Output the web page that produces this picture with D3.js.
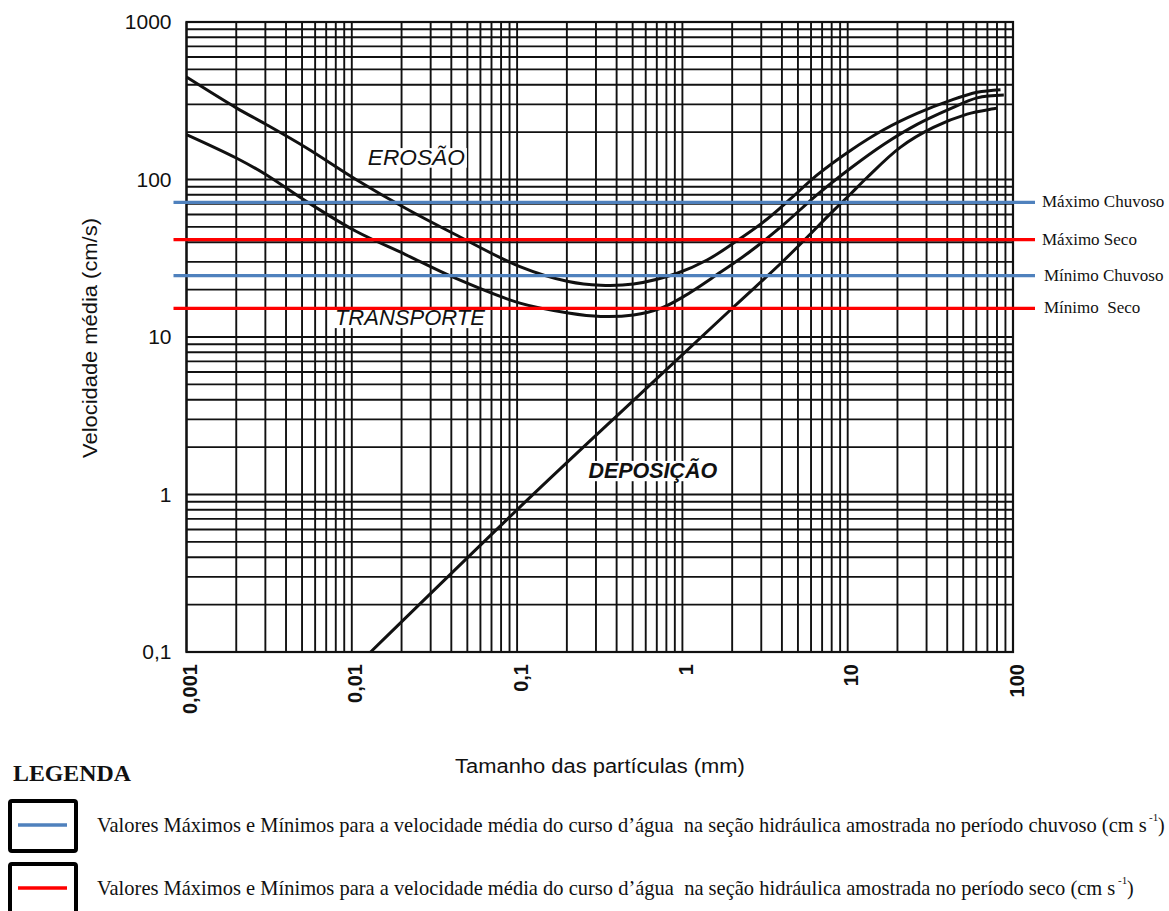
<!DOCTYPE html>
<html>
<head>
<meta charset="utf-8">
<script src="https://cdn.jsdelivr.net/npm/d3@7"></script>
<style>
  body { margin: 0; background: #fff; }
  svg { display: block; }
</style>
</head>
<body>
<div id="chart"></div>
<script>
// Curves of the Hjulström diagram: [particle size (mm), mean velocity (cm/s)].
const erosionUpper = [
    [0.001, 447], [0.002, 285], [0.003, 225], [0.0053, 159], [0.0106, 100],
    [0.021, 65.9], [0.042, 44.9], [0.104, 28], [0.204, 22.5], [0.32, 21.3],
    [0.506, 21.7], [0.93, 25.4], [1.41, 30.8], [2.04, 39.5], [3.26, 56.1],
    [4.5, 75.2], [6.54, 107], [10.4, 153], [16.5, 207], [26.3, 263],
    [41.9, 318], [60.7, 358], [84, 372]
];
const erosionLower = [
    [0.001, 193], [0.002, 137], [0.003, 108], [0.0053, 72.7], [0.0106, 46.9],
    [0.021, 33.5], [0.042, 23.7], [0.104, 16.4], [0.204, 14.2], [0.32, 13.5],
    [0.506, 13.8], [0.738, 15.2], [1.02, 18.1], [1.62, 24.9], [2.58, 35],
    [4.09, 51.7], [6.54, 80.2], [10.4, 118], [16.5, 167], [26.3, 224],
    [41.9, 282], [60.7, 330], [88, 344]
];
const deposition = [
    [0.013, 0.1], [0.115, 0.92], [0.506, 3.96], [2.04, 15.5], [4.09, 30.5],
    [8.2, 63.4], [10.4, 80.9], [13.1, 103], [20.8, 160], [33, 214],
    [52.8, 260], [76, 281], [80, 284]
];

// Measured velocities drawn as horizontal lines.
const refNames = ['Máximo Chuvoso', 'Máximo Seco', 'Mínimo Chuvoso', 'Mínimo  Seco'];
const refValues = [71.5, 41.5, 24.5, 15.2];
const refColors = ['#4f81bd', '#ff0000', '#4f81bd', '#ff0000'];

// Axis ticks and region labels.
const xTicks = [0.001, 0.01, 0.1, 1, 10, 100];
const yTicks = [0.1, 1, 10, 100, 1000];
const regionNames = ['EROSÃO', 'TRANSPORTE', 'DEPOSIÇÃO'];
const regionAt = [[0.0125, 124], [0.0079, 11.9], [0.27, 1.27]];

const legendTexts = [
    'Valores Máximos e Mínimos para a velocidade média do curso d’água  na seção hidráulica amostrada no período chuvoso (cm s',
    'Valores Máximos e Mínimos para a velocidade média do curso d’água  na seção hidráulica amostrada no período seco (cm s'
];
const legendColors = ['#4f81bd', '#ff0000'];

const W = 1169, H = 911;
const margin = {top: 22, left: 186.5, right: 156, bottom: 259};
const width = W - margin.left - margin.right;
const height = H - margin.top - margin.bottom;

const sans = '"Liberation Sans", Arial, sans-serif';
const serif = '"Liberation Serif", "Times New Roman", serif';

const svg = d3.select('#chart')
    .append('svg')
        .attr('width', W)
        .attr('height', H);
svg.append('rect').attr('width', W).attr('height', H).attr('fill', '#fff');

// Text squeezed horizontally to a measured width (the scan's type is condensed).
function squeezed(parent, x, y, target, turn) {
    const holder = parent.append('g');
    const t = holder.append('text');
    t.fit = () => {
        const w = t.node().getComputedTextLength();
        holder.attr('transform', `translate(${x},${y})${turn ? ' rotate(-90)' : ''} scale(${target / w},1)`);
        return t;
    };
    t.holder = holder;
    return t;
}

const g = svg.append('g')
    .attr('transform', `translate(${margin.left},${margin.top})`);

// Log scales on both axes.
const x = d3.scaleLog().domain([0.001, 100]).range([0, width]);
const y = d3.scaleLog().domain([0.1, 1000]).range([height, 0]);

// Log grid (every 1..9 of each decade).
g.append('g')
    .selectAll('line')
    .data(x.ticks())
    .join('line')
        .attr('x1', d => x(d)).attr('x2', d => x(d))
        .attr('y1', 0).attr('y2', height)
        .attr('stroke', '#111')
        .attr('stroke-width', 1.9);
g.append('g')
    .selectAll('line')
    .data(y.ticks())
    .join('line')
        .attr('x1', 0).attr('x2', width)
        .attr('y1', d => y(d)).attr('y2', d => y(d))
        .attr('stroke', '#111')
        .attr('stroke-width', 1.9);
g.append('rect')
    .attr('width', width).attr('height', height)
    .attr('fill', 'none')
    .attr('stroke', '#111')
    .attr('stroke-width', 2.2);

// Comma as decimal separator.
const fmt = d3.formatLocale({decimal: ',', thousands: '.', grouping: [3], currency: ['', '']}).format('~g');

// Y axis.
const yAxis = g.append('g')
    .call(d3.axisLeft(y).tickValues(yTicks).tickFormat(fmt).tickSize(0).tickPadding(15));
yAxis.select('.domain').remove();
yAxis.selectAll('text')
    .style('font-family', sans)
    .style('font-size', '21px')
    .attr('fill', '#111');

// X axis, labels turned upright.
const xAxis = g.append('g')
    .attr('transform', `translate(0,${height})`)
    .call(d3.axisBottom(x).tickValues(xTicks).tickFormat(fmt).tickSize(0));
xAxis.select('.domain').remove();
xAxis.selectAll('text')
    .attr('transform', 'rotate(-90)')
    .attr('x', -12)
    .attr('y', 3)
    .attr('dy', '0.35em')
    .attr('text-anchor', 'end')
    .style('font-family', sans)
    .style('font-size', '20px')
    .style('font-weight', 'bold')
    .attr('fill', '#111');

// Axis titles.
squeezed(svg, 97, 338, 240, true)
    .attr('text-anchor', 'middle')
    .style('font-family', sans)
    .style('font-size', '21px')
    .attr('fill', '#111')
    .text('Velocidade média (cm/s)')
    .fit();
squeezed(svg, 600, 773, 290)
    .attr('text-anchor', 'middle')
    .style('font-family', sans)
    .style('font-size', '21px')
    .attr('fill', '#111')
    .text('Tamanho das partículas (mm)')
    .fit();

// Curves.
const line = d3.line()
    .x(d => x(d[0]))
    .y(d => y(d[1]))
    .curve(d3.curveCatmullRom.alpha(0.5));
[erosionUpper, erosionLower, deposition].forEach(c => {
    g.append('path')
        .datum(c)
        .attr('d', line)
        .attr('fill', 'none')
        .attr('stroke', '#111')
        .attr('stroke-width', 3);
});

// Region labels on a white patch.
regionNames.forEach((name, i) => {
    const t = squeezed(g, x(regionAt[i][0]), y(regionAt[i][1]), [97, 150, 129][i])
        .style('font-family', sans)
        .style('font-size', '22px')
        .style('font-style', 'italic')
        .style('font-weight', i === 2 ? 'bold' : 'normal')
        .attr('fill', '#111')
        .text(name)
        .fit();
    const b = t.node().getBBox();
    t.holder.insert('rect', 'text')
        .attr('x', b.x - 2).attr('y', b.y + 3)
        .attr('width', b.width + 4).attr('height', b.height - 5)
        .attr('fill', '#fff');
});

// Reference lines and their names.
refValues.forEach((v, i) => {
    g.append('line')
        .attr('x1', x(0.001) - 13).attr('x2', x(100) + 22)
        .attr('y1', y(v)).attr('y2', y(v))
        .attr('stroke', refColors[i])
        .attr('stroke-width', 3.2);
    g.append('text')
        .attr('x', x(100) + (i < 2 ? 29 : 31))
        .attr('y', y(v) + 5)
        .style('font-family', serif)
        .style('font-size', '17px')
        .style('white-space', 'pre')
        .attr('fill', '#111')
        .text(refNames[i]);
});

// Legend.
squeezed(svg, 13, 781, 118)
    .style('font-family', serif)
    .style('font-size', '24px')
    .style('font-weight', 'bold')
    .attr('fill', '#111')
    .text('LEGENDA')
    .fit();

const legendTop = [801, 864];
const legendEnd = [1147, 1116];
legendTexts.forEach((txt, i) => {
    const top = legendTop[i];
    svg.append('rect')
        .attr('x', 10).attr('y', top)
        .attr('width', 66).attr('height', 50)
        .attr('rx', 2)
        .attr('fill', '#fff')
        .attr('stroke', '#000')
        .attr('stroke-width', 4);
    svg.append('line')
        .attr('x1', 18).attr('x2', 67)
        .attr('y1', top + 24).attr('y2', top + 24)
        .attr('stroke', legendColors[i])
        .attr('stroke-width', 3.5);
    squeezed(svg, 97, top + 31, legendEnd[i] - 97)
        .style('font-family', serif)
        .style('font-size', '22px')
        .style('white-space', 'pre')
        .attr('fill', '#111')
        .text(txt)
        .fit();
    svg.append('text')
        .attr('x', legendEnd[i] + 2)
        .attr('y', top + 20)
        .style('font-family', serif)
        .style('font-size', '11px')
        .attr('fill', '#111')
        .text('-1');
    svg.append('text')
        .attr('x', legendEnd[i] + 11)
        .attr('y', top + 31)
        .style('font-family', serif)
        .style('font-size', '20px')
        .attr('fill', '#111')
        .text(')');
});
</script>
</body>
</html>
